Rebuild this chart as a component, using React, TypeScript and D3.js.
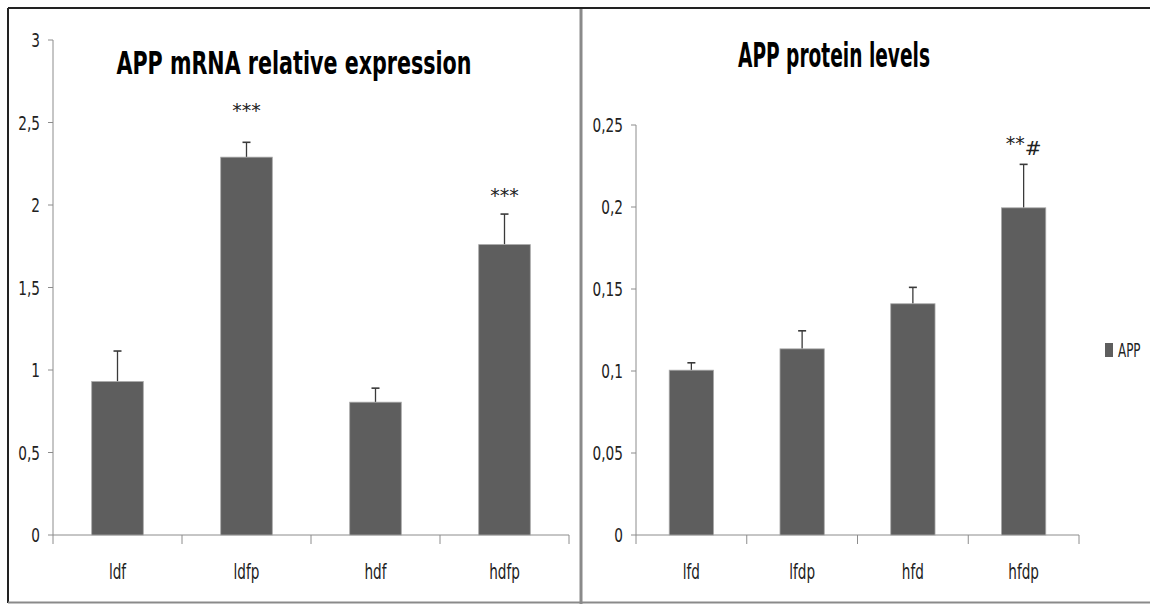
import React from "react";
import { scaleLinear, scaleBand } from "d3";

// left panel: APP mRNA
const mrnaCategories = ["ldf", "ldfp", "hdf", "hdfp"];
const mrnaValues = [0.93, 2.29, 0.805, 1.76];
const mrnaErrors = [0.185, 0.09, 0.085, 0.185];
const mrnaTicks = [0, 0.5, 1, 1.5, 2, 2.5, 3];
const mrnaTickLabels = ["0", "0,5", "1", "1,5", "2", "2,5", "3"];
const mrnaMarks = ["", "***", "", "***"];
const mrnaMarkLevels = [0, 2.6, 0, 2.085];

// right panel: APP protein
const proteinCategories = ["lfd", "lfdp", "hfd", "hfdp"];
const proteinValues = [0.1005, 0.1135, 0.141, 0.1995];
const proteinErrors = [0.0045, 0.011, 0.01, 0.0265];
const proteinTicks = [0, 0.05, 0.1, 0.15, 0.2, 0.25];
const proteinTickLabels = ["0", "0,05", "0,1", "0,15", "0,2", "0,25"];
const proteinMarks = ["", "", "", "**"];
const proteinMarkLevels = [0, 0, 0, 0.2415];
const proteinMarks2 = ["", "", "", "#"];

const seriesName = "APP";

const FONT = "'DejaVu Sans Condensed', 'Liberation Sans Narrow', 'Open Sans', sans-serif";
const BAR = "#5e5e5e";
const AXIS = "#8c8c8c";

// squeezed text, the original is a narrow font
function Label({ x, y, anchor = "start", size, sx, children, weight = "normal" }) {
  return (
    <text
      transform={`translate(${x},${y}) scale(${sx},1)`}
      textAnchor={anchor}
      fontSize={size}
      fontWeight={weight}
      fill="#222"
      style={{ fontFamily: FONT }}
    >
      {children}
    </text>
  );
}

function Panel(props) {
  const { cats, values, errors, ticks, tickLabels, marks, markLevels, marks2, domain, x0, x1, yTop } = props;
  const y = scaleLinear().domain(domain).range([535, yTop]);
  const x = scaleBand().domain(cats).range([x0, x1]).paddingInner(0).paddingOuter(0);
  const bw = x.bandwidth() * 0.4;

  return (
    <g>
      {/* y axis */}
      <line x1={x0} x2={x0} y1={y(domain[0])} y2={y(domain[1])} stroke={AXIS} strokeWidth={1} />
      {ticks.map((t, i) => (
        <g key={"yt" + i}>
          <line x1={x0 - 5} x2={x0} y1={y(t)} y2={y(t)} stroke={AXIS} />
          <Label x={x0 - 13} y={y(t) + 7} anchor="end" size={19} sx={0.8}>
            {tickLabels[i]}
          </Label>
        </g>
      ))}
      {/* x axis */}
      <line x1={x0} x2={x1} y1={y(0)} y2={y(0)} stroke={AXIS} strokeWidth={1} />
      {[...cats.map((c) => x(c)), x1].map((p, i) => (
        <line key={"xt" + i} x1={p} x2={p} y1={y(0)} y2={y(0) + 9} stroke={AXIS} />
      ))}
      {cats.map((c) => (
        <Label key={"xl" + c} x={x(c) + x.bandwidth() / 2} y={579} anchor="middle" size={21} sx={0.72}>
          {c}
        </Label>
      ))}
      {/* bars */}
      {cats.map((c, i) => {
        const cx = x(c) + x.bandwidth() / 2;
        return (
          <g key={"b" + c}>
            <line x1={cx} x2={cx} y1={y(values[i])} y2={y(values[i] + errors[i])} stroke="#3a3a3a" strokeWidth={1.3} />
            <line x1={cx - 4} x2={cx + 4} y1={y(values[i] + errors[i])} y2={y(values[i] + errors[i])} stroke="#3a3a3a" strokeWidth={1.6} />
            <rect x={cx - bw / 2} y={y(values[i])} width={bw} height={y(0) - y(values[i])} fill={BAR} stroke="#a8a8a8" strokeWidth={0.8} />
            {marks[i] ? (
              <text x={cx} y={y(markLevels[i]) + 11} textAnchor="middle" fontSize={19} fill="#222" style={{ fontFamily: "'DejaVu Sans', sans-serif" }}>
                {marks[i]}
                {marks2 && marks2[i] ? (
                  <tspan dy={5} fontSize={20}>{marks2[i]}</tspan>
                ) : null}
              </text>
            ) : null}
          </g>
        );
      })}
    </g>
  );
}

export default function App() {
  return (
    <svg width={1150} height={604} style={{ position: "absolute", left: 0, top: 0, background: "white" }}>
      <rect x={0} y={0} width={1150} height={604} fill="white" />
      {/* frames */}
      <line x1={8} x2={1150} y1={8} y2={8} stroke="#222" strokeWidth={2} />
      <line x1={8} x2={8} y1={8} y2={603} stroke="#222" strokeWidth={2} />
      <line x1={8} x2={1150} y1={602.5} y2={602.5} stroke="#8a8a8a" strokeWidth={2} />
      <line x1={581} x2={581} y1={9} y2={604} stroke="#8a8a8a" strokeWidth={3} />

      <text x={294} y={74} textAnchor="middle" fontSize={32} fontWeight="bold" textLength={355} lengthAdjust="spacingAndGlyphs" fill="#000" style={{ fontFamily: FONT }}>
        APP mRNA relative expression
      </text>
      <text x={834} y={67} textAnchor="middle" fontSize={33} fontWeight="bold" textLength={192} lengthAdjust="spacingAndGlyphs" fill="#000" style={{ fontFamily: FONT }}>
        APP protein levels
      </text>

      <Panel
        cats={mrnaCategories}
        values={mrnaValues}
        errors={mrnaErrors}
        ticks={mrnaTicks}
        tickLabels={mrnaTickLabels}
        marks={mrnaMarks}
        markLevels={mrnaMarkLevels}
        domain={[0, 3]}
        x0={53}
        x1={569}
        yTop={40}
      />
      <Panel
        cats={proteinCategories}
        values={proteinValues}
        errors={proteinErrors}
        ticks={proteinTicks}
        tickLabels={proteinTickLabels}
        marks={proteinMarks}
        markLevels={proteinMarkLevels}
        marks2={proteinMarks2}
        domain={[0, 0.25]}
        x0={636}
        x1={1079}
        yTop={125}
      />

      {/* legend */}
      <rect x={1105} y={343} width={8} height={14} fill={BAR} />
      <Label x={1118} y={357} size={19} sx={0.7}>
        {seriesName}
      </Label>
    </svg>
  );
}
